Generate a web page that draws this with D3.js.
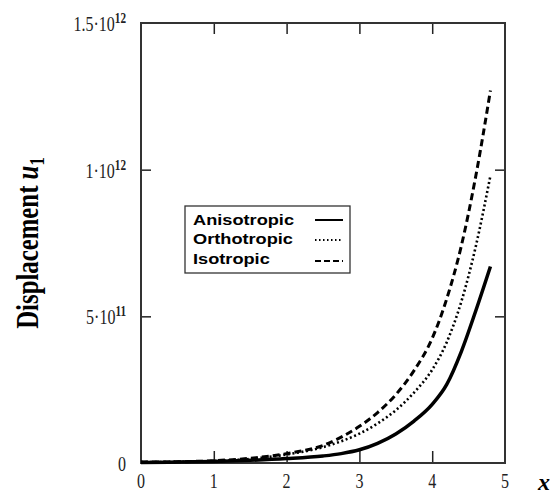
<!DOCTYPE html>
<html>
<head>
<meta charset="utf-8">
<script src="https://cdn.jsdelivr.net/npm/d3@7"></script>
<style>
  body { margin: 0; background: #fff; }
  svg { display: block; }
</style>
</head>
<body>
<div id="chart"></div>
<script>
var width = 557;
var height = 495;

// data (displacement in units of 1e12)
var x_values    = [0, 0.5, 1, 1.5, 2, 2.5, 2.75, 3, 3.25, 3.5, 3.75, 4, 4.2, 4.4, 4.6, 4.8];
var anisotropic = [0.002, 0.003, 0.005, 0.009, 0.015, 0.024, 0.032, 0.045, 0.067, 0.099, 0.143, 0.2, 0.268, 0.38, 0.52, 0.67];
var orthotropic = [0.003, 0.004, 0.007, 0.014, 0.029, 0.054, 0.074, 0.1, 0.135, 0.18, 0.24, 0.318, 0.412, 0.55, 0.74, 0.98];
var isotropic   = [0.003, 0.004, 0.008, 0.016, 0.032, 0.06, 0.088, 0.125, 0.172, 0.233, 0.315, 0.425, 0.56, 0.74, 0.98, 1.27];

var series_names = ['Anisotropic', 'Orthotropic', 'Isotropic'];
var x_ticks = [0, 1, 2, 3, 4, 5];
var y_ticks = [0, 0.5, 1, 1.5];
var y_tick_base = ['0', '5\u00b710', '1\u00b710', '1.5\u00b710'];
var y_tick_exp  = ['', '11', '12', '12'];

var plot_left = 141, plot_right = 505, plot_top = 23, plot_bottom = 463;

var svg = d3.select('#chart')
	.append('svg')
	.attr('width', width)
	.attr('height', height);

var x = d3.scaleLinear().domain([0, 5]).range([plot_left, plot_right]);
var y = d3.scaleLinear().domain([0, 1.5]).range([plot_bottom, plot_top]);

// inner ticks on all four sides
var inner = [1, 2, 3, 4];
var yinner = [0.5, 1];
svg.append('g').attr('transform', 'translate(0,' + plot_bottom + ')')
	.call(d3.axisBottom(x).tickValues(inner).tickSize(-12).tickFormat(''));
svg.append('g').attr('transform', 'translate(0,' + plot_top + ')')
	.call(d3.axisTop(x).tickValues(inner).tickSize(-11).tickFormat(''));
svg.append('g').attr('transform', 'translate(' + plot_left + ',0)')
	.call(d3.axisLeft(y).tickValues(yinner).tickSize(-10).tickFormat(''));
svg.append('g').attr('transform', 'translate(' + plot_right + ',0)')
	.call(d3.axisRight(y).tickValues(yinner).tickSize(-10).tickFormat(''));
svg.selectAll('.domain').remove();
svg.selectAll('.tick line').attr('stroke', '#222').attr('stroke-width', 1.5);

svg.append('rect')
	.attr('x', plot_left).attr('y', plot_top)
	.attr('width', plot_right - plot_left).attr('height', plot_bottom - plot_top)
	.attr('fill', 'none').attr('stroke', '#333').attr('stroke-width', 2);

// tick labels
svg.selectAll('.xlab')
	.data(x_ticks)
	.enter().append('text')
	.attr('class', 'xlab')
	.attr('transform', (d) => 'translate(' + x(d) + ',488) scale(0.8,1)')
	.attr('text-anchor', 'middle')
	.style('font-family', 'Liberation Serif')
	.style('font-size', '20px')
	.attr('fill', '#222')
	.text((d) => d);

var ylab = svg.selectAll('.ylab')
	.data(y_ticks)
	.enter().append('text')
	.attr('class', 'ylab')
	.attr('transform', (d) => 'translate(126,' + (y(d) + 8) + ') scale(0.8,1)')
	.attr('text-anchor', 'end')
	.style('font-family', 'Liberation Serif')
	.style('font-size', '20px')
	.attr('fill', '#222');
ylab.append('tspan').text((d, i) => y_tick_base[i]);
ylab.append('tspan')
	.attr('dy', -8)
	.style('font-size', '14px')
	.style('font-weight', 'bold')
	.text((d, i) => y_tick_exp[i]);

// axis titles
var ytitle = svg.append('text')
	.attr('transform', 'translate(38,243) rotate(-90) scale(0.8,1)')
	.attr('text-anchor', 'middle')
	.style('font-family', 'Liberation Serif')
	.style('font-size', '31px')
	.style('font-weight', 'bold');
ytitle.append('tspan').text('Displacement ');
ytitle.append('tspan').style('font-style', 'italic').text('u');
ytitle.append('tspan').attr('dy', 6).style('font-size', '21px').text('1');

svg.append('text')
	.attr('x', 538).attr('y', 490)
	.style('font-family', 'Liberation Serif')
	.style('font-size', '24px')
	.style('font-weight', 'bold')
	.style('font-style', 'italic')
	.text('x');

// curves
var styles = [
	{ w: 3.5, dash: null },
	{ w: 2.6, dash: '2,2.6' },
	{ w: 3, dash: '7,4' }
];
var all_series = [anisotropic, orthotropic, isotropic];

var line = d3.line()
	.x((d) => x(d[0]))
	.y((d) => y(d[1]))
	.curve(d3.curveMonotoneX);

all_series.forEach((s, k) => {
	svg.append('path')
		.datum(d3.zip(x_values, s))
		.attr('fill', 'none')
		.attr('stroke', '#000')
		.attr('stroke-width', styles[k].w)
		.attr('stroke-dasharray', styles[k].dash)
		.attr('d', line);
});

// legend
var legend = svg.append('g');
legend.append('rect')
	.attr('x', 185).attr('y', 206)
	.attr('width', 165).attr('height', 67)
	.attr('fill', '#fff').attr('stroke', '#333').attr('stroke-width', 1.3);

var text_base = [225, 244, 264];
var line_y = [220, 240, 261];
series_names.forEach((name, k) => {
	legend.append('text')
		.attr('transform', 'translate(193,' + text_base[k] + ') scale(1.3,1)')
		.style('font-family', 'Liberation Sans')
		.style('font-size', '14px')
		.style('font-weight', 'bold')
		.text(name);
	legend.append('line')
		.attr('x1', 315).attr('x2', 343)
		.attr('y1', line_y[k]).attr('y2', line_y[k])
		.attr('stroke', '#000')
		.attr('stroke-width', k == 0 ? 2 : 1.8)
		.attr('stroke-dasharray', k == 0 ? null : (k == 1 ? '1.5,2.5' : '6,3'));
});
</script>
</body>
</html>
